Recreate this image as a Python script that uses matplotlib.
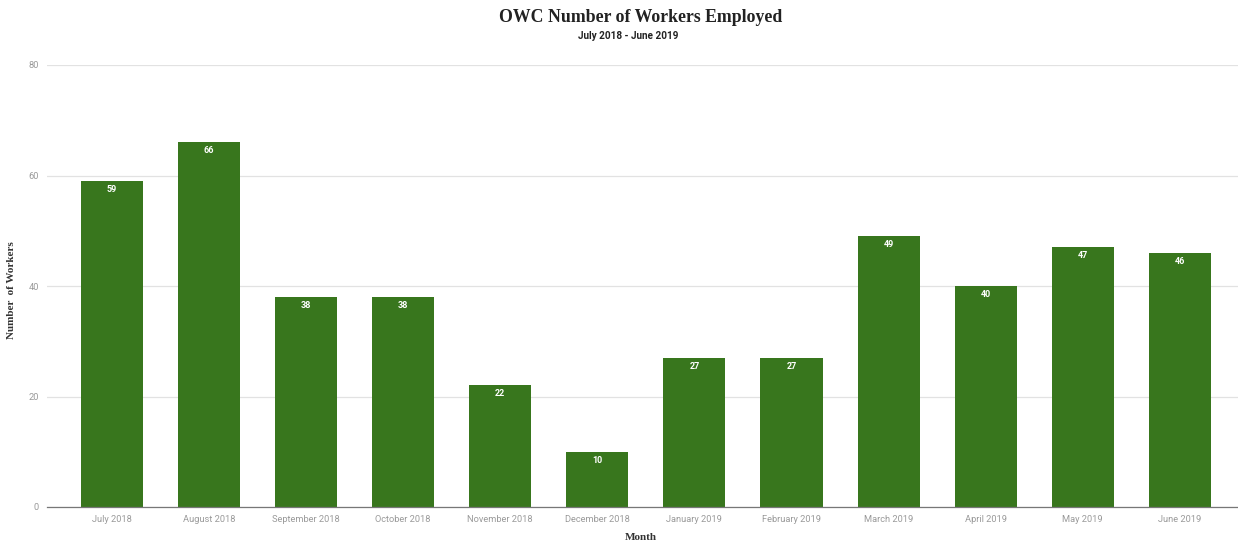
import matplotlib
matplotlib.use("Agg")
import matplotlib.pyplot as plt
import numpy as np

months = ["July 2018", "August 2018", "September 2018", "October 2018",
          "November 2018", "December 2018", "January 2019", "February 2019",
          "March 2019", "April 2019", "May 2019", "June 2019"]
workers = [59, 66, 38, 38, 22, 10, 27, 27, 49, 40, 47, 46]

bar_color = "#38761d"

fig = plt.figure(figsize=(12.38, 5.42), dpi=100)
ax = fig.add_axes([47 / 1238, 35 / 542, 1 - 47 / 1238, 442 / 542])

x = np.arange(len(months))
ax.bar(x, workers, width=0.64, color=bar_color, zorder=3)

# value labels sit just inside the top of each bar
for xi, v in zip(x, workers):
    ax.annotate(str(v), (xi, v), xytext=(0, -6), textcoords="offset points",
                ha="center", va="center", color="white", fontsize=6.5,
                fontweight="bold", family="Roboto", zorder=4)

ax.set_xlim(-0.67, 11.6)
ax.set_ylim(0, 80)
ax.set_yticks([0, 20, 40, 60, 80])
ax.set_xticks(x)
ax.set_xticklabels(months)
ax.tick_params(axis="both", length=0, labelsize=6.7, labelcolor="#9a9a9a")
ax.tick_params(axis="x", pad=6)
ax.tick_params(axis="y", pad=6)
for lbl in ax.get_xticklabels() + ax.get_yticklabels():
    lbl.set_family("Roboto")

ax.yaxis.grid(True, color="#e2e2e2", linewidth=0.9, zorder=0)
for side in ["top", "right", "left"]:
    ax.spines[side].set_visible(False)
ax.spines["bottom"].set_color("#777777")
ax.spines["bottom"].set_linewidth(0.9)
ax.spines["bottom"].set_zorder(4)

fig.text(641 / 1238, 1 - 537 / 542, "Month", family="Liberation Serif",
         fontweight="bold", fontsize=8, color="#333333", ha="center", va="center")
fig.text(12 / 1238, 1 - 290 / 542, "Number  of Workers", family="Liberation Serif",
         fontweight="bold", fontsize=8, color="#333333", ha="center", va="center",
         rotation=90)

fig.text(641 / 1238, 1 - 17 / 542, "OWC Number of Workers Employed",
         family="Liberation Serif", fontweight="bold", fontsize=12.8,
         ha="center", va="center", color="#222222")
fig.text(628 / 1238, 1 - 36 / 542, "July 2018 - June 2019", family="Roboto",
         fontweight="bold", fontsize=7.2, ha="center", va="center", color="#222222")

fig.savefig("out.png", dpi=100)
